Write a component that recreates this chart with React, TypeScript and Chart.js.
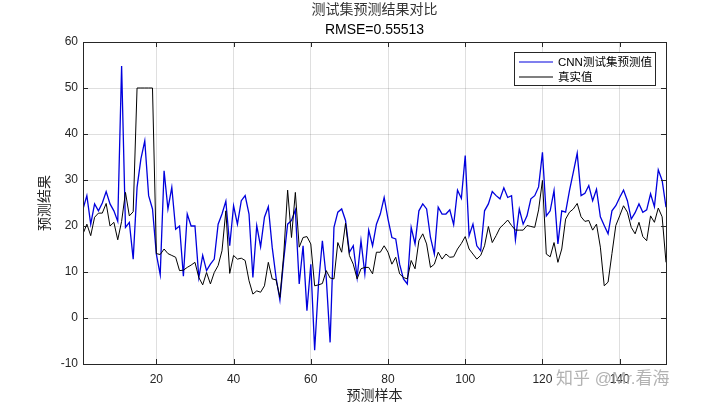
import React, { useEffect, useRef } from "react";
import { Chart, registerables } from "chart.js";
Chart.register(...registerables);

const predicted = [
  23.7, 26.6, 20.4, 24.8, 23.3, 25.0, 27.5, 24.8, 23.3, 21.0,
  54.8, 19.7, 20.8, 12.8, 28.4, 34.6, 38.5, 26.6, 23.7, 13.9,
  9.4, 32.0, 23.7, 28.4, 19.3, 20.0, 9.1, 22.6, 20.0, 20.0,
  8.8, 13.6, 10.3, 11.7, 12.8, 20.4, 22.6, 25.4, 15.7, 24.4,
  20.4, 25.5, 26.6, 22.6, 8.8, 20.1, 15.5, 21.9, 24.2, 15.4,
  8.8, 3.9, 12.8, 20.4, 21.2, 23.5, 7.4, 15.7, 1.6, 11.7,
  -7.0, 7.4, 16.8, 8.8, -5.3, 19.7, 23.0, 23.7, 21.2, 14.3,
  15.7, 8.8, 16.8, 9.6, 19.1, 15.7, 20.4, 22.6, 26.2, 21.5,
  17.5, 17.2, 11.7, 8.5, 7.4, 19.7, 16.1, 23.3, 24.8, 23.7,
  17.5, 13.9, 24.1, 22.6, 22.6, 23.5, 20.3, 27.8, 26.0, 35.3,
  17.9, 20.4, 15.7, 14.6, 23.3, 24.8, 27.5, 26.6, 25.9, 28.3,
  26.2, 26.6, 17.0, 23.7, 20.4, 22.2, 25.9, 26.6, 28.5, 36.0,
  22.2, 23.3, 27.7, 16.1, 23.3, 23.0, 27.7, 31.7, 35.8, 26.6,
  27.1, 28.8, 25.5, 28.0, 22.0, 20.1, 18.3, 23.3, 24.4, 26.2,
  27.8, 25.5, 21.5, 22.9, 24.8, 23.0, 23.5, 27.0, 24.2, 32.2,
  29.9, 24.1,
];

const actual = [
  18.3, 20.4, 17.9, 21.9, 22.8, 22.8, 24.9, 20.0, 20.8, 17.0,
  21.0, 27.3, 22.2, 23.1, 50.0, 50.0, 50.0, 50.0, 50.0, 14.0,
  13.8, 15.0, 14.0, 13.6, 13.2, 10.3, 10.4, 11.0, 11.5, 12.1,
  8.8, 7.2, 9.9, 7.4, 9.9, 11.4, 14.6, 23.3, 9.7, 13.6,
  12.8, 13.0, 12.5, 8.1, 5.2, 5.9, 5.6, 7.0, 12.1, 8.5,
  8.3, 4.5, 13.9, 27.8, 17.5, 27.3, 15.4, 17.5, 17.7, 16.1,
  7.0, 7.2, 7.5, 10.3, 8.7, 8.5, 16.4, 14.3, 20.6, 13.6,
  11.7, 8.5, 10.7, 11.0, 11.0, 9.6, 14.3, 14.3, 15.7, 14.3,
  11.7, 13.2, 9.6, 8.8, 8.5, 12.5, 10.7, 16.8, 18.3, 16.1,
  11.0, 11.7, 14.3, 12.8, 13.9, 13.2, 13.3, 15.0, 16.2, 17.7,
  15.0, 13.9, 12.8, 13.6, 15.7, 19.9, 16.4, 17.9, 19.6, 20.4,
  21.3, 20.1, 19.1, 19.1, 19.1, 20.1, 19.9, 19.7, 23.5, 29.9,
  13.9, 13.3, 16.4, 12.1, 15.0, 21.5, 23.0, 23.7, 24.9, 22.0,
  21.0, 21.2, 19.1, 20.4, 15.4, 7.0, 7.8, 14.0, 20.1, 22.2,
  24.4, 23.0, 19.7, 18.3, 20.8, 17.7, 16.8, 22.2, 20.8, 23.9,
  22.0, 12.1,
];

const xTicks = [20, 40, 60, 80, 100, 120, 140];
const yTicks = [-10, 0, 10, 20, 30, 40, 50, 60];
const titleLine1 = "测试集预测结果对比";
const titleLine2 = "RMSE=0.55513";
const seriesNames = ["CNN测试集预测值", "真实值"];
const xLabel = "预测样本";
const yLabel = "预测结果";
const watermark = "知乎 @Mr.看海";

const BLUE = "#0000dd";
const BLACK = "#000000";
const AXIS = "#262626";
const FONT = '"Liberation Sans", "Noto Sans CJK SC", sans-serif';

const decor = {
  id: "decor",
  afterDatasetsDraw(chart: any) {
    const { ctx, chartArea: a, scales } = chart;
    const xs = scales.x;
    const ys = scales.y;
    ctx.save();
    ctx.strokeStyle = AXIS;
    ctx.lineWidth = 1;
    ctx.beginPath();
    xTicks.forEach((v) => {
      const px = Math.round(xs.getPixelForValue(v)) + 0.5;
      ctx.moveTo(px, a.bottom);
      ctx.lineTo(px, a.bottom - 5);
      ctx.moveTo(px, a.top);
      ctx.lineTo(px, a.top + 5);
    });
    yTicks.forEach((v) => {
      const py = Math.round(ys.getPixelForValue(v)) + 0.5;
      ctx.moveTo(a.left, py);
      ctx.lineTo(a.left + 5, py);
      ctx.moveTo(a.right, py);
      ctx.lineTo(a.right - 5, py);
    });
    ctx.stroke();
    ctx.strokeRect(Math.round(a.left) + 0.5, Math.round(a.top) + 0.5,
      Math.round(a.right - a.left), Math.round(a.bottom - a.top));

    // legend
    const lx = a.right - 152;
    const ly = a.top + 10;
    const lw = 141;
    const lh = 33;
    ctx.fillStyle = "#ffffff";
    ctx.fillRect(lx, ly, lw, lh);
    ctx.strokeStyle = AXIS;
    ctx.strokeRect(Math.round(lx) + 0.5, Math.round(ly) + 0.5, lw, lh);
    const colors = [BLUE, BLACK];
    ctx.font = `11.5px ${FONT}`;
    ctx.textBaseline = "middle";
    ctx.textAlign = "left";
    seriesNames.forEach((name, i) => {
      const cy = ly + 10 + i * 15;
      ctx.strokeStyle = colors[i];
      ctx.lineWidth = 1.2;
      ctx.beginPath();
      ctx.moveTo(lx + 5, cy);
      ctx.lineTo(lx + 39, cy);
      ctx.stroke();
      ctx.fillStyle = "#000";
      ctx.fillText(name, lx + 44, cy + 0.5);
    });
    ctx.restore();
  },
  afterDraw(chart: any) {
    const { ctx, chartArea: a } = chart;
    const cx = (a.left + a.right) / 2;
    ctx.save();
    ctx.textAlign = "center";
    ctx.textBaseline = "middle";
    ctx.fillStyle = "#333";
    ctx.font = `14px ${FONT}`;
    ctx.fillText(titleLine1, cx, 10);
    ctx.fillStyle = "#000";
    ctx.font = `14px ${FONT}`;
    ctx.fillText(titleLine2, cx, 30);
    ctx.fillStyle = "#262626";
    ctx.font = `14px ${FONT}`;
    ctx.fillText(xLabel, cx, 396);
    ctx.save();
    ctx.translate(45, (a.top + a.bottom) / 2);
    ctx.rotate(-Math.PI / 2);
    ctx.fillText(yLabel, 0, 0);
    ctx.restore();
    // watermark
    ctx.textAlign = "left";
    ctx.font = `17px ${FONT}`;
    ctx.fillStyle = "rgba(165,165,165,0.85)";
    ctx.fillText(watermark, 556, 379);
    ctx.restore();
  },
};

export default function App() {
  const ref = useRef<HTMLCanvasElement | null>(null);
  useEffect(() => {
    document.body.style.margin = "0";
    if (!ref.current) return;
    const toPts = (arr: number[]) => arr.map((y, i) => ({ x: i + 1, y }));
    const chart = new Chart(ref.current, {
      type: "line",
      data: {
        datasets: [
          {
            label: seriesNames[0],
            data: toPts(predicted),
            borderColor: BLUE,
            borderWidth: 1.3,
            pointRadius: 0,
            tension: 0,
            fill: false,
            order: 1,
          },
          {
            label: seriesNames[1],
            data: toPts(actual),
            borderColor: BLACK,
            borderWidth: 1,
            pointRadius: 0,
            tension: 0,
            fill: false,
            order: 0,
          },
        ],
      },
      options: {
        responsive: false,
        animation: false,
        devicePixelRatio: 1,
        layout: { padding: { top: 42, right: 54, bottom: 0, left: 0 } },
        plugins: {
          legend: { display: false },
          title: { display: false },
          tooltip: { enabled: false },
        },
        scales: {
          x: {
            type: "linear",
            min: 1,
            max: 152,
            afterBuildTicks: (s: any) => {
              s.ticks = xTicks.map((v) => ({ value: v }));
            },
            afterFit: (s: any) => {
              s.height = 43;
            },
            grid: { color: "rgba(38,38,38,0.15)", drawTicks: false },
            border: { display: false },
            ticks: {
              color: AXIS,
              padding: 8,
              maxRotation: 0,
              font: { family: FONT, size: 12 },
            },
          },
          y: {
            type: "linear",
            min: -10,
            max: 60,
            afterBuildTicks: (s: any) => {
              s.ticks = yTicks.map((v) => ({ value: v }));
            },
            afterFit: (s: any) => {
              s.width = 83;
            },
            grid: { color: "rgba(38,38,38,0.15)", drawTicks: false },
            border: { display: false },
            ticks: {
              color: AXIS,
              padding: 5,
              font: { family: FONT, size: 12 },
            },
          },
        },
      },
      plugins: [decor],
    });
    return () => chart.destroy();
  }, []);
  return (
    <div style={{ width: 720, height: 407, background: "#fff" }}>
      <canvas ref={ref} width={720} height={407} style={{ display: "block" }} />
    </div>
  );
}
